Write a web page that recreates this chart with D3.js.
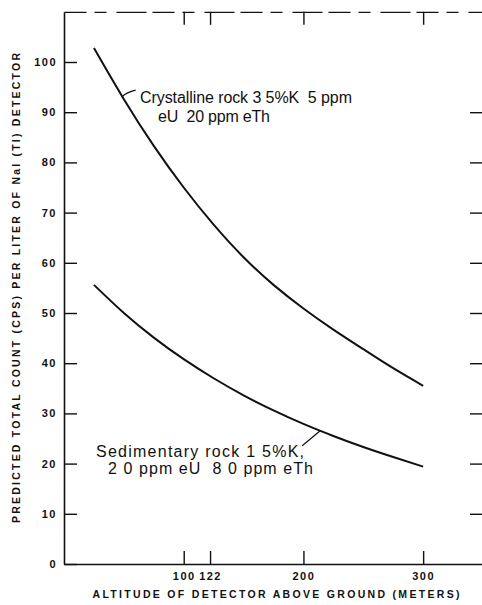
<!DOCTYPE html>
<html><head><meta charset="utf-8">
<script src="https://cdn.jsdelivr.net/npm/d3@7"></script>
<style>
html,body{margin:0;padding:0;background:#fff;}
svg{display:block;}
text{font-family:"Liberation Sans",Arial,Helvetica,sans-serif;fill:#111;}
</style></head>
<body>
<svg id="chart" width="482" height="605"></svg>
<script>
// ---- data ----
const altitudes = [25, 50, 75, 100, 125, 150, 175, 200, 225, 250, 275, 300];
const crystalline = [102.8, 92.6, 83.3, 75.0, 67.6, 61.1, 55.6, 50.9, 46.7, 42.8, 39.0, 35.5];
const sedimentary = [55.6, 50.0, 45.1, 40.8, 37.0, 33.6, 30.6, 27.9, 25.5, 23.3, 21.3, 19.4];
const xTicks = [100, 122, 200, 300];
const yTicks = [0, 10, 20, 30, 40, 50, 60, 70, 80, 90, 100];
const yTitle = "PREDICTED TOTAL COUNT (CPS) PER LITER OF NaI (Tl) DETECTOR";
const xTitle = "ALTITUDE OF DETECTOR ABOVE GROUND (METERS)";
const crystLabel = ["Crystalline rock 3 5%K  5 ppm", "eU  20 ppm eTh"];
const sedLabel = ["Sedimentary rock 1 5%K,", "2 0 ppm eU  8 0 ppm eTh"];

const svg = d3.select("#chart");
const L = 64, R = 483, T = 11.8, B = 564;
const x = d3.scaleLinear().domain([0, 350]).range([L, R]);
const y = d3.scaleLinear().domain([0, 110]).range([B, T]);

// axes
const tickLen = 13;
const gL = svg.append("g").attr("transform", `translate(${L},0)`)
  .call(d3.axisLeft(y).tickValues(yTicks).tickSizeInner(-tickLen).tickSizeOuter(0));
const gR = svg.append("g").attr("transform", `translate(${R},0)`)
  .call(d3.axisRight(y).tickValues(yTicks.filter(d => d > 0 && d < 100)).tickSizeInner(-tickLen).tickSizeOuter(0).tickFormat(""));
const gB = svg.append("g").attr("transform", `translate(0,${B})`)
  .call(d3.axisBottom(x).tickValues(xTicks).tickSizeInner(-tickLen).tickSizeOuter(0).tickPadding(8));
const gT = svg.append("g").attr("transform", `translate(0,${T})`)
  .call(d3.axisTop(x).tickValues(xTicks).tickSizeInner(-tickLen).tickSizeOuter(0).tickFormat(""));

[gL, gR, gB, gT].forEach(g => {
  g.selectAll(".domain").attr("stroke", "#111").attr("stroke-width", 1.6);
  g.selectAll(".tick line").attr("stroke", "#111").attr("stroke-width", 1.4);
});
gT.select(".domain").attr("stroke-dasharray", "22,8,12,10,30,6").attr("stroke-width", 1.3);
gL.selectAll(".tick text").attr("x", -7)
  .style("font-size", "11px").style("font-weight", "bold").style("letter-spacing", "1.5px")
  .attr("fill", "#111");
gB.selectAll(".tick text")
  .style("font-size", "11px").style("font-weight", "bold").style("letter-spacing", "1.5px")
  .attr("fill", "#111");

// titles
svg.append("text")
  .attr("transform", `translate(20,${288}) rotate(-90)`)
  .attr("text-anchor", "middle")
  .style("font-size", "10.5px").style("font-weight", "bold")
  .attr("textLength", 470).attr("lengthAdjust", "spacing")
  .text(yTitle);
svg.append("text")
  .attr("x", 276).attr("y", 598)
  .attr("text-anchor", "middle")
  .style("font-size", "10.5px").style("font-weight", "bold")
  .attr("textLength", 367).attr("lengthAdjust", "spacing")
  .text(xTitle);

// curves
const line = d3.line().x(d => x(d[0])).y(d => y(d[1])).curve(d3.curveNatural);
[crystalline, sedimentary].forEach(s => {
  svg.append("path")
    .datum(altitudes.map((a, i) => [a, s[i]]))
    .attr("fill", "none").attr("stroke", "#111").attr("stroke-width", 2)
    .attr("d", line);
});

// annotations
const ann = svg.append("g").style("font-size", "16px");
const addLabel = (tx, ty, w, s) => ann.append("text").attr("x", tx).attr("y", ty)
  .attr("xml:space", "preserve")
  .attr("textLength", w).attr("lengthAdjust", "spacing").text(s);
addLabel(140, 103, 212, crystLabel[0]);
addLabel(158, 122, 112, crystLabel[1]);
addLabel(96, 457, 208, sedLabel[0]);
addLabel(108, 474, 205, sedLabel[1]);

// leader lines (anchored on curves via scales)
const cA = 49, sA = 214;
const cy = d3.scaleLinear().domain(altitudes).range(crystalline);
const sy = d3.scaleLinear().domain(altitudes).range(sedimentary);
svg.append("path").attr("fill", "none").attr("stroke", "#111").attr("stroke-width", 1.2)
  .attr("d", `M${x(cA) - 1},${y(cy(cA))} q5,-5 14,-7`);
svg.append("path").attr("fill", "none").attr("stroke", "#111").attr("stroke-width", 1.2)
  .attr("d", `M${x(sA)},${y(sy(sA))} L${x(sA) - 18},${y(sy(sA)) + 15}`);
</script>
</body></html>
